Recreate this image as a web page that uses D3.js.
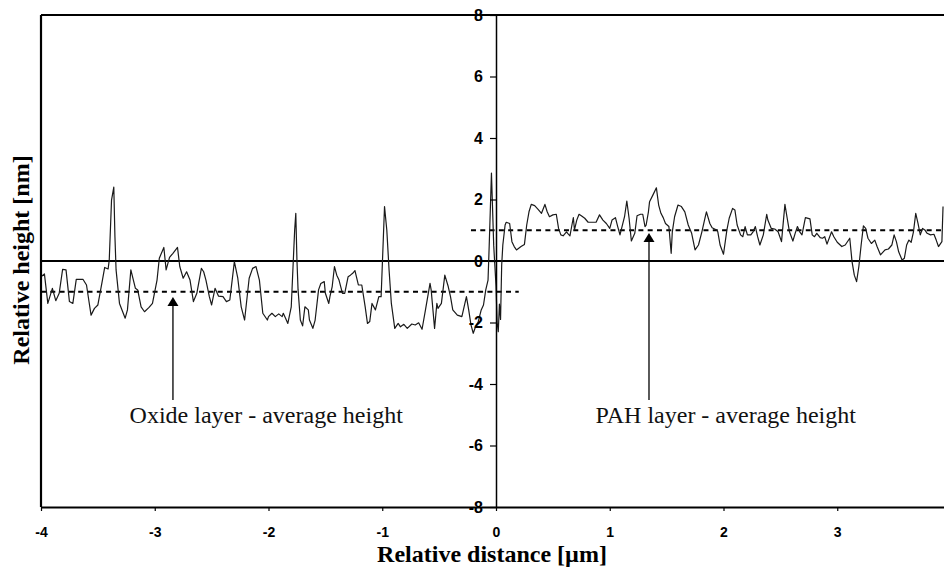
<!DOCTYPE html>
<html>
<head>
<meta charset="utf-8">
<script src="https://cdn.jsdelivr.net/npm/d3@7"></script>
<style>
  body { margin: 0; background: #fff; }
  svg { display: block; }
</style>
</head>
<body>
<svg id="profile_svg" width="944" height="570"></svg>
<script>
// height profile: distance in um, height in nm
const profileX = [
  -4.00,-3.97,-3.94,-3.90,-3.87,-3.84,-3.81,-3.78,-3.75,-3.72,-3.69,-3.63,-3.60,-3.56,-3.53,-3.50,
  -3.46,-3.44,-3.41,-3.40,-3.38,-3.36,-3.35,-3.34,-3.31,-3.26,-3.24,-3.21,-3.17,-3.15,-3.12,-3.09,
  -3.05,-3.02,-2.98,-2.96,-2.92,-2.90,-2.87,-2.84,-2.80,-2.78,-2.75,-2.72,-2.69,-2.66,-2.63,-2.59,
  -2.57,-2.55,-2.52,-2.50,-2.47,-2.44,-2.40,-2.37,-2.34,-2.30,-2.27,-2.24,-2.21,-2.17,-2.14,-2.11,
  -2.08,-2.05,-2.01,
  -2.00,-1.97,-1.94,-1.91,-1.88,-1.87,-1.85,-1.83,-1.80,-1.77,-1.76,-1.75,-1.74,-1.72,-1.70,-1.68,
  -1.65,-1.64,-1.61,-1.59,-1.56,-1.54,-1.51,-1.50,-1.47,-1.46,-1.44,-1.42,-1.40,-1.38,-1.35,-1.33,
  -1.30,-1.28,-1.26,-1.24,-1.21,-1.18,-1.15,-1.13,-1.11,-1.09,-1.06,-1.03,-1.01,-0.99,-0.98,-0.96,
  -0.94,-0.92,-0.89,-0.86,-0.84,-0.81,-0.78,-0.74,-0.71,-0.68,-0.65,-0.62,-0.58,-0.57,-0.54,-0.52,
  -0.51,-0.48,-0.45,-0.42,-0.40,-0.38,-0.34,-0.30,-0.26,-0.24,-0.22,-0.20,-0.18,-0.16,-0.13,-0.11,
  -0.09,-0.07,-0.06,-0.05,-0.04,-0.02,0.00,0.01,0.02,0.03,0.04,0.05,
  0.06,0.08,0.09,0.12,0.14,0.16,0.18,0.22,0.25,0.27,0.29,0.31,0.34,0.37,0.40,0.43,
  0.45,0.47,0.50,0.53,0.55,0.57,0.59,0.62,0.63,0.65,0.67,0.68,0.69,0.71,0.73,0.75,
  0.78,0.81,0.84,0.88,0.91,0.94,0.97,1.00,1.02,1.05,1.07,1.09,1.13,1.15,1.17,1.19,
  1.22,1.24,1.27,1.29,1.31,1.32,1.34,1.35,1.38,1.41,1.43,1.45,1.47,1.49,1.52,1.54,
  1.55,1.57,1.60,1.63,1.66,1.69,1.72,1.75,1.78,1.81,1.84,1.85,1.88,1.90,1.94,
  1.95,1.97,2.00,2.03,2.05,2.08,2.10,2.12,2.15,2.17,2.19,2.21,2.24,2.26,2.28,2.30,
  2.32,2.35,2.38,2.39,2.42,2.45,2.48,2.51,2.54,2.56,2.58,2.61,2.63,2.65,2.67,2.69,
  2.72,2.76,2.78,2.80,2.82,2.85,2.87,2.89,2.91,2.95,2.97,3.00,3.04,3.07,3.11,3.13,
  3.15,3.17,3.19,3.21,3.23,3.25,3.27,3.30,3.33,3.35,3.38,3.40,3.42,3.45,3.48,3.50,
  3.52,3.54,3.57,3.59,3.61,3.63,3.65,3.67,3.69,3.71,3.73,3.75,3.77,3.79,3.82,3.85,
  3.87,3.89,3.92,3.93
]
const profileY = [
  -0.51,-0.42,-1.38,-0.89,-1.29,-1.05,-0.27,-0.29,-1.32,-1.38,-0.60,-0.60,-0.78,-1.76,-1.54,-1.43,
  -0.62,-0.21,-0.26,0.03,1.98,2.40,0.79,-0.29,-1.38,-1.86,-1.59,-0.29,-0.89,-0.94,-1.49,-1.65,
  -1.51,-1.38,-0.62,0.09,0.44,-0.29,0.12,0.25,0.44,-0.18,-0.56,-0.35,-0.62,-1.32,-1.05,-0.24,
  -0.35,-0.62,-1.16,-1.43,-0.89,-1.14,-1.16,-1.32,-1.27,-0.02,-0.56,-1.49,-1.92,-0.56,-0.24,-0.18,
  -0.62,-1.70,-1.92,
  -1.81,-1.70,-1.81,-1.72,-1.81,-1.70,-1.86,-2.03,-1.49,1.01,1.55,0.03,-0.94,-1.92,-2.11,-1.49,
  -1.59,-1.92,-2.19,-1.92,-0.94,-0.73,-0.67,-1.05,-1.38,-1.16,-0.83,-0.18,-0.46,-0.62,-1.05,-1.05,
  -0.51,-0.46,-0.40,-0.31,-0.78,-0.78,-1.49,-2.03,-1.97,-1.38,-1.59,-1.16,-1.16,0.79,1.77,1.01,
  -0.29,-1.38,-2.19,-2.03,-2.14,-2.06,-2.19,-2.05,-2.08,-2.01,-2.22,-1.59,-0.73,-0.94,-2.19,-1.38,
  -1.54,-1.38,-0.46,-0.83,-1.16,-1.59,-1.76,-1.81,-1.16,-1.59,-2.08,-2.35,-2.14,-2.03,-1.59,-1.43,
  -0.94,-0.62,0.47,1.66,2.86,0.50,-0.80,-2.00,-2.30,-1.40,-1.90,-0.13,
  0.52,1.17,1.26,1.22,0.63,0.47,0.36,0.47,0.54,1.17,1.60,1.84,1.80,1.68,1.55,1.84,
  1.60,1.44,1.50,1.52,1.06,0.85,0.82,0.95,0.90,0.82,1.22,1.41,1.01,1.33,1.52,1.47,
  1.39,1.26,1.26,1.26,1.50,1.33,1.22,1.06,1.33,1.41,1.12,0.85,1.44,1.95,1.39,0.65,
  0.90,1.47,1.52,1.52,1.12,1.17,1.60,1.93,2.15,2.38,1.82,1.55,1.41,1.22,1.12,0.25,
  0.95,1.44,1.82,1.77,1.60,1.17,0.90,0.36,0.52,0.95,1.44,1.60,1.22,1.08,1.01,
  0.95,0.52,0.22,1.01,1.39,1.71,1.66,1.17,0.85,0.79,1.12,0.85,0.85,0.95,1.12,0.79,
  0.52,0.85,1.52,1.33,1.06,1.04,0.95,0.63,1.84,1.39,0.95,0.65,0.90,1.12,0.95,0.85,
  1.41,1.37,0.85,0.79,0.90,0.76,0.74,0.79,0.55,0.95,0.79,0.61,0.47,0.52,0.74,-0.02,
  -0.46,-0.67,-0.18,0.52,1.14,1.06,0.74,0.57,0.68,0.47,0.20,0.28,0.36,0.39,0.52,0.85,
  0.63,0.30,0.03,0.09,0.52,0.68,0.61,0.95,1.55,1.22,0.85,1.06,1.01,0.90,0.85,0.87,
  0.68,0.47,0.63,1.77
]

const xTicks = [-4, -3, -2, -1, 0, 1, 2, 3]
const yTicks = [-8, -6, -4, -2, 0, 2, 4, 6, 8]

// average heights (dashed) and the x span each one covers
const oxideAvg = -1
const oxideSpan = [-4, 0.2]
const pahAvg = 1
const pahSpan = [-0.22, 4]

const annotations = [
  {label: 'Oxide layer - average height', arrowX: -2.84, tipY: -1.17, textX: -2.02},
  {label: 'PAH layer - average height', arrowX: 1.345, tipY: 0.91, textX: 2.02}
]
const arrowBaseY = -4.52
const annotationY = -5.28

const svg = d3.select('#profile_svg')
const margin = {top: 15, left: 41, bottom: 63}
const height = +svg.attr('height')

var xScale = d3.scaleLinear()
  .domain([-4, 4])
  .range([margin.left, margin.left + 910])
var yScale = d3.scaleLinear()
  .domain([-8, 8])
  .range([height - margin.bottom, margin.top])

const serif = '"Liberation Serif", "Times New Roman", serif'
const sans = '"Liberation Sans", Arial, sans-serif'

// zero line
svg.append('line')
  .attr('x1', xScale(-4)).attr('x2', xScale(4))
  .attr('y1', yScale(0)).attr('y2', yScale(0))
  .attr('stroke', '#000')
  .attr('stroke-width', 2)

// average height lines
svg.append('line')
  .attr('x1', xScale(oxideSpan[0])).attr('x2', xScale(oxideSpan[1]))
  .attr('y1', yScale(oxideAvg)).attr('y2', yScale(oxideAvg))
  .attr('stroke', '#000')
  .attr('stroke-width', 2)
  .attr('stroke-dasharray', '5,4.3')
svg.append('line')
  .attr('x1', xScale(pahSpan[0])).attr('x2', xScale(pahSpan[1]))
  .attr('y1', yScale(pahAvg)).attr('y2', yScale(pahAvg))
  .attr('stroke', '#000')
  .attr('stroke-width', 2)
  .attr('stroke-dasharray', '5,4.3')

// profile trace
const line = d3.line()
  .x(function(d, i) { return xScale(profileX[i]) })
  .y(function(d) { return yScale(d) })

svg.append('path')
  .datum(profileY)
  .attr('d', line)
  .attr('fill', 'none')
  .attr('stroke', '#1a1a1a')
  .attr('stroke-width', 1.2)
  .attr('stroke-linejoin', 'round')

// plain hyphen minus, like the original
const tickFmt = d => String(d)

// y axis through x = 0
const yAxis = d3.axisLeft(yScale)
  .tickValues(yTicks)
  .tickSize(6)
  .tickSizeOuter(0)
  .tickPadding(7)
  .tickFormat(tickFmt)

const yAxisG = svg.append('g')
  .attr('transform', `translate(${xScale(0)},0)`)
  .call(yAxis)
yAxisG.select('.domain').attr('stroke-width', 1.5)
yAxisG.selectAll('line').attr('stroke-width', 1.2)
yAxisG.selectAll('text')
  .style('font-family', sans)
  .style('font-weight', 'bold')
  .style('font-size', '16px')
  .attr('fill', '#000')

// x axis at the bottom of the box
const xAxis = d3.axisBottom(xScale)
  .tickValues(xTicks)
  .tickSize(4)
  .tickSizeOuter(0)
  .tickPadding(16)
  .tickFormat(tickFmt)

const xAxisG = svg.append('g')
  .attr('transform', `translate(0,${yScale(-8)})`)
  .call(xAxis)
xAxisG.select('.domain').attr('stroke-width', 2.2)
xAxisG.selectAll('line').attr('stroke-width', 1.2)
xAxisG.selectAll('text')
  .style('font-family', sans)
  .style('font-weight', 'bold')
  .style('font-size', '14px')
  .attr('fill', '#000')

// box: left and top edges
svg.append('line')
  .attr('x1', xScale(-4)).attr('x2', xScale(-4))
  .attr('y1', yScale(8)).attr('y2', yScale(-8))
  .attr('stroke', '#000')
  .attr('stroke-width', 2.2)
svg.append('line')
  .attr('x1', xScale(-4)).attr('x2', xScale(4))
  .attr('y1', yScale(8)).attr('y2', yScale(8))
  .attr('stroke', '#000')
  .attr('stroke-width', 2.2)

// arrows + labels
annotations.forEach(a => {
  const ax = xScale(a.arrowX)
  const tip = yScale(a.tipY)
  svg.append('line')
    .attr('x1', ax).attr('x2', ax)
    .attr('y1', tip + 8).attr('y2', yScale(arrowBaseY))
    .attr('stroke', '#000')
    .attr('stroke-width', 1.3)
  svg.append('path')
    .attr('d', `M${ax},${tip} L${ax - 5.5},${tip + 9} L${ax + 5.5},${tip + 9} Z`)
    .attr('fill', '#000')
  svg.append('text')
    .attr('x', xScale(a.textX))
    .attr('y', yScale(annotationY))
    .attr('text-anchor', 'middle')
    .style('font-family', serif)
    .style('font-size', '24px')
    .attr('fill', '#111')
    .text(a.label)
})

// axis titles
svg.append('text')
  .attr('x', 492)
  .attr('y', 562)
  .attr('text-anchor', 'middle')
  .style('font-family', serif)
  .style('font-weight', 'bold')
  .style('font-size', '24px')
  .text('Relative distance [\u00b5m]')

svg.append('text')
  .attr('transform', 'rotate(-90)')
  .attr('x', -260)
  .attr('y', 29)
  .attr('text-anchor', 'middle')
  .style('font-family', serif)
  .style('font-weight', 'bold')
  .style('font-size', '24px')
  .text('Relative height [nm]')
</script>
</body>
</html>
